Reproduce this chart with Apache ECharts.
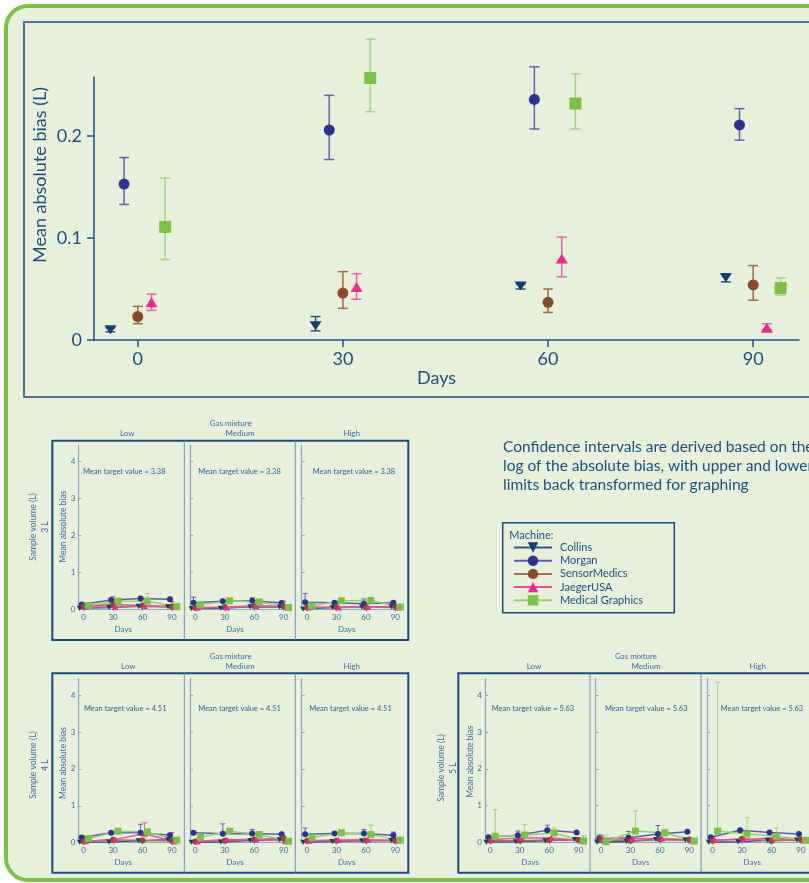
<!DOCTYPE html>
<html><head><meta charset="utf-8">
<script src="https://cdn.jsdelivr.net/npm/echarts@6/dist/echarts.min.js"></script>
<style>html,body{margin:0;padding:0;background:#ffffff;}#c{width:809px;height:883px;}</style>
</head><body><div id="c"></div>
<script>
// ---------- DATA ----------
const machines = ['Collins', 'Morgan', 'SensorMedics', 'JaegerUSA', 'Medical Graphics'];
const dayTicks = [0, 30, 60, 90];
const mainYTicks = [0, 0.1, 0.2];
const smallYTicks = [0, 1, 2, 3, 4];
const gasMixtures = ['Low', 'Medium', 'High'];
const targetValues = ['3.38', '4.51', '5.63'];
const sampleVolumes = ['3 L', '4 L', '5 L'];

// Main chart: mean absolute bias (L) at days 0,30,60,90 with CI
const mainCollins = [0.010, 0.014, 0.053, 0.061];
const mainCollinsLo = [0.008, 0.009, 0.050, 0.057];
const mainCollinsHi = [0.012, 0.023, 0.055, 0.065];
const mainMorgan = [0.153, 0.206, 0.236, 0.211];
const mainMorganLo = [0.133, 0.177, 0.207, 0.196];
const mainMorganHi = [0.179, 0.240, 0.268, 0.227];
const mainSensor = [0.023, 0.046, 0.037, 0.054];
const mainSensorLo = [0.016, 0.031, 0.027, 0.039];
const mainSensorHi = [0.033, 0.067, 0.050, 0.073];
const mainJaeger = [0.037, 0.052, 0.080, 0.012];
const mainJaegerLo = [0.029, 0.040, 0.062, 0.010];
const mainJaegerHi = [0.045, 0.065, 0.101, 0.016];
const mainMG = [0.111, 0.257, 0.232, 0.051];
const mainMGLo = [0.079, 0.224, 0.207, 0.044];
const mainMGHi = [0.159, 0.295, 0.261, 0.061];

// Small panels: rows = Collins, Morgan, SensorMedics, JaegerUSA, Medical Graphics; cols = day 0,30,60,90
const vol3Low = [[0.03,0.05,0.08,0.07],[0.13,0.25,0.29,0.27],[0.08,0.13,0.10,0.07],[0.06,0.06,0.09,0.06],[0.10,0.22,0.22,0.07]];
const vol3LowUp = [[null,null,null,null],[0.17,0.30,0.32,0.30],[null,0.34,0.14,0.20],[null,null,null,null],[null,0.26,0.43,0.15]];
const vol3Medium = [[0.02,0.03,0.07,0.06],[0.18,0.22,0.23,0.17],[0.04,0.06,0.09,0.08],[0.04,0.05,0.08,0.06],[0.12,0.23,0.20,0.05]];
const vol3MediumUp = [[null,null,null,null],[0.33,0.26,0.31,0.20],[null,null,null,0.22],[null,null,null,null],[null,null,0.27,null]];
const vol3High = [[0.01,0.05,0.06,0.07],[0.19,0.18,0.15,0.18],[0.05,0.06,0.05,0.07],[0.05,0.05,0.06,0.05],[0.09,0.23,0.24,0.06]];
const vol3HighUp = [[null,null,null,null],[0.43,0.21,0.28,0.21],[null,null,null,null],[null,null,null,null],[null,null,0.28,null]];

const vol4Low = [[0.01,0.02,0.05,0.08],[0.14,0.27,0.27,0.20],[0.03,0.08,0.06,0.05],[0.04,0.09,0.24,0.03],[0.11,0.31,0.29,0.07]];
const vol4LowUp = [[null,null,null,null],[0.18,0.30,0.50,0.25],[null,null,null,0.27],[null,null,0.54,null],[null,null,null,null]];
const vol4Medium = [[0.01,0.02,0.06,0.08],[0.27,0.24,0.25,0.23],[0.03,0.05,0.09,0.12],[0.03,0.09,0.09,0.05],[0.15,0.31,0.22,0.04]];
const vol4MediumUp = [[null,null,null,null],[0.30,0.51,0.36,0.26],[null,null,null,0.16],[null,null,null,null],[null,null,null,null]];
const vol4High = [[0.01,0.03,0.05,0.06],[0.23,0.25,0.25,0.20],[0.05,0.05,0.06,0.06],[0.05,0.07,0.08,0.05],[0.14,0.27,0.22,0.07]];
const vol4HighUp = [[null,null,null,null],[0.40,0.28,0.36,0.29],[null,null,null,null],[null,null,null,null],[null,null,0.48,null]];

const vol5Low = [[0.01,0.02,0.05,0.08],[0.14,0.20,0.33,0.27],[0.05,0.05,0.07,0.07],[0.08,0.12,0.12,0.06],[0.17,0.20,0.26,0.04]];
const vol5LowUp = [[null,null,null,null],[null,0.31,0.47,null],[null,null,null,null],[null,null,null,null],[0.89,0.49,0.40,0.18]];
const vol5Medium = [[0.01,0.03,0.08,0.07],[0.10,0.13,0.23,0.29],[0.08,0.05,0.09,0.08],[0.10,0.10,0.11,0.06],[0.02,0.31,0.26,0.04]];
const vol5MediumUp = [[null,null,null,null],[0.20,0.30,0.46,null],[0.20,null,null,null],[null,null,null,null],[0.20,0.86,0.36,null]];
const vol5High = [[0.01,0.02,0.06,0.07],[0.14,0.33,0.27,0.23],[0.05,0.10,0.04,0.08],[0.07,0.08,0.12,0.06],[0.31,0.23,0.17,0.06]];
const vol5HighUp = [[null,null,null,null],[null,null,null,null],[null,null,null,null],[null,null,null,null],[4.35,0.68,0.39,null]];

// ---------- STYLE / LAYOUT ----------
const FONT = 'Lato, "DejaVu Sans", sans-serif';
const TXT = '#1f4e7e', SMALL_TXT = '#3d6c9c', AX_LIGHT = '#8ea7c0', FRAME = '#1d4b7a', AX = '#1e5084';
const colors = ['#133e6d', '#2e3192', '#8a4b2a', '#ec2a8e', '#7bc143'];
const barColors = ['#2a5484', '#6262ae', '#a4693f', '#f060a6', '#a3d67f'];
const lineColors = ['#33598a', '#5c5ca8', '#a87050', '#ef4f9c', '#99d070'];
const symbols = ['triangle', 'circle', 'circle', 'triangle', 'rect'];
const rotations = [180, 0, 0, 0, 0];
const mainSizes = [[12, 9], 11, 11, [12, 10], 12];
const smallSizes = [[6, 5], 6, 6, [7, 6], 7];
const mainOffsets = [-4, -2, 0, 2, 4];
const smallOffsets = [-4, -2, 0, 2, 5];

const mainVals = [mainCollins, mainMorgan, mainSensor, mainJaeger, mainMG];
const mainLo = [mainCollinsLo, mainMorganLo, mainSensorLo, mainJaegerLo, mainMGLo];
const mainHi = [mainCollinsHi, mainMorganHi, mainSensorHi, mainJaegerHi, mainMGHi];

const panels = [
  { vals: [vol3Low, vol3Medium, vol3High], ups: [vol3LowUp, vol3MediumUp, vol3HighUp],
    axisX: [78.3, 190, 301.7], top: 445, zero: 609.3,
    frame: [52.3, 440.7, 356, 199.3], dividers: [184.3, 295.3],
    titleY: [423.3, 433.3], titleX: [230.7, 127.3, 240, 351.7],
    targetX: [83, 198.3, 312.7], targetY: 471.7,
    volLabel: [39, 527], innerLabel: [63.3, 526.7] },
  { vals: [vol4Low, vol4Medium, vol4High], ups: [vol4LowUp, vol4MediumUp, vol4HighUp],
    axisX: [78.3, 190, 301.7], top: 678.5, zero: 842.7,
    frame: [52.3, 673.3, 356, 199.4], dividers: [184.3, 295.3],
    titleY: [656.7, 666], titleX: [230.7, 128.3, 240, 351.7],
    targetX: [84, 198.3, 309.3], targetY: 708.3,
    volLabel: [39, 765], innerLabel: [63.3, 763] },
  { vals: [vol5Low, vol5Medium, vol5High], ups: [vol5LowUp, vol5MediumUp, vol5HighUp],
    axisX: [485, 595.7, 707.3], top: 678.5, zero: 842.5,
    frame: [458.3, 673.3, 420, 199.4], dividers: [590, 701],
    titleY: [656.7, 666], titleX: [636, 534, 646, 757.7],
    targetX: [491.7, 605, 720.7], targetY: 708.3,
    volLabel: [447.5, 768], innerLabel: [470, 761.7] }
];

// ---------- BUILD ----------
const grids = [], xAxes = [], yAxes = [], series = [], graphics = [];

// main grid (index 0)
grids.push({ left: 94, top: 77, width: 705, height: 263 });
xAxes.push({
  type: 'value', gridIndex: 0, min: -6.4, max: 96.7,
  axisLine: { show: true, onZero: false, lineStyle: { color: AX, width: 1.5 } },
  axisTick: { show: true, customValues: dayTicks, length: 7, lineStyle: { color: AX, width: 1.5 } },
  axisLabel: { customValues: dayTicks, fontSize: 18, color: TXT, fontFamily: FONT, margin: 10 },
  splitLine: { show: false },
  name: 'Days', nameLocation: 'middle', nameGap: 28,
  nameTextStyle: { fontSize: 18, color: TXT, fontFamily: FONT, padding: [0, 20, 0, 0] }
});
yAxes.push({
  type: 'value', gridIndex: 0, min: 0, max: 0.258,
  axisLine: { show: true, onZero: false, lineStyle: { color: AX, width: 1.5 } },
  axisTick: { show: true, customValues: mainYTicks, length: 7, lineStyle: { color: AX, width: 1.5 } },
  axisLabel: { customValues: mainYTicks, fontSize: 18, color: TXT, fontFamily: FONT, margin: 12,
    formatter: v => v === 0 ? '0' : v.toFixed(1) },
  splitLine: { show: false }
});

function errItem(capW, lw, colorsArr, lowerCap) {
  return function (params, api) {
    const x = api.value(0), lo = api.value(1), hi = api.value(2), m = api.value(3);
    const c = colorsArr[m];
    const pH = api.coord([x, hi]), pL = api.coord([x, lo]);
    const st = { stroke: c, lineWidth: lw };
    const ch = [
      { type: 'line', shape: { x1: pH[0], y1: pH[1], x2: pL[0], y2: pL[1] }, style: st },
      { type: 'line', shape: { x1: pH[0] - capW / 2, y1: pH[1], x2: pH[0] + capW / 2, y2: pH[1] }, style: st }
    ];
    if (lowerCap) ch.push({ type: 'line', shape: { x1: pL[0] - capW / 2, y1: pL[1], x2: pL[0] + capW / 2, y2: pL[1] }, style: st });
    return { type: 'group', children: ch };
  };
}

// small grids
let gi = 1;
panels.forEach((p, pi) => {
  p.axisX.forEach((ax, fi) => {
    grids.push({ left: ax, top: p.top, width: 100, height: p.zero - p.top });
    xAxes.push({
      type: 'value', gridIndex: gi, min: -5.5, max: 96.5,
      axisLine: { show: true, onZero: false, lineStyle: { color: AX_LIGHT, width: 1 } },
      axisTick: { show: true, customValues: dayTicks, length: 2, lineStyle: { color: AX_LIGHT } },
      axisLabel: { customValues: dayTicks, fontSize: 8, color: SMALL_TXT, fontFamily: FONT, margin: 4 },
      splitLine: { show: false },
      name: 'Days', nameLocation: 'middle', nameGap: 16,
      nameTextStyle: { fontSize: 8, color: SMALL_TXT, fontFamily: FONT, padding: [0, 10, 0, 0] }
    });
    yAxes.push({
      type: 'value', gridIndex: gi, min: 0, max: 4.45,
      axisLine: { show: true, onZero: false, lineStyle: { color: AX_LIGHT, width: 1.2 } },
      axisTick: { show: true, inside: true, customValues: smallYTicks, length: 3, lineStyle: { color: AX_LIGHT } },
      axisLabel: { show: fi === 0, customValues: smallYTicks, fontSize: 8, color: SMALL_TXT, fontFamily: FONT, margin: 3 },
      splitLine: { show: false }
    });
    const vals = p.vals[fi], ups = p.ups[fi];
    const errData = [];
    machines.forEach((m, mi) => {
      series.push({
        type: 'line', name: m, xAxisIndex: gi, yAxisIndex: gi,
        data: dayTicks.map((d, di) => [d + smallOffsets[mi], vals[mi][di]]),
        symbol: symbols[mi], symbolRotate: rotations[mi], symbolSize: smallSizes[mi],
        itemStyle: { color: colors[mi] },
        lineStyle: { color: lineColors[mi], width: 1.5 },
        z: 3, animation: false, silent: true
      });
      dayTicks.forEach((d, di) => {
        if (ups[mi][di] != null) errData.push([d + smallOffsets[mi], vals[mi][di], ups[mi][di], mi]);
      });
    });
    series.push({
      type: 'custom', xAxisIndex: gi, yAxisIndex: gi, data: errData, clip: false,
      encode: { x: 0, y: [1, 2] }, renderItem: errItem(5, 1, barColors, false), z: 2, silent: true
    });
    gi++;
  });
});

// main series (after small line series so legend icons come from line series)
machines.forEach((m, mi) => {
  series.push({
    type: 'custom', xAxisIndex: 0, yAxisIndex: 0, clip: false,
    data: dayTicks.map((d, di) => [d + mainOffsets[mi], mainLo[mi][di], mainHi[mi][di], mi]),
    encode: { x: 0, y: [1, 2] }, renderItem: errItem(10, 1.5, barColors, true), z: 2, silent: true
  });
  series.push({
    type: 'scatter', name: m, xAxisIndex: 0, yAxisIndex: 0,
    data: dayTicks.map((d, di) => [d + mainOffsets[mi], mainVals[mi][di]]),
    symbol: symbols[mi], symbolRotate: rotations[mi], symbolSize: mainSizes[mi],
    itemStyle: { color: colors[mi], opacity: 1 }, z: 4, silent: true
  });
});

// ---------- GRAPHICS ----------
function txt(x, y, text, size, color, align, opts) {
  return Object.assign({
    type: 'text', x: x, y: y, silent: true,
    style: { text: text, fontSize: size, fontFamily: FONT, fill: color,
      align: align || 'center', verticalAlign: 'middle', textAlign: align || 'center', textVerticalAlign: 'middle' }
  }, opts || {});
}
graphics.push({ type: 'rect', z: -5, silent: true, shape: { x: 6, y: 6, width: 860, height: 874, r: 22 },
  style: { fill: '#e6f0db', stroke: '#7bc143', lineWidth: 4 } });
graphics.push({ type: 'rect', z: -4, silent: true, shape: { x: 24, y: 22, width: 860, height: 375 },
  style: { fill: 'none', stroke: FRAME, lineWidth: 1.5 } });
graphics.push(txt(40, 175, 'Mean absolute bias (L)', 18, TXT, 'center', { rotation: Math.PI / 2 }));

graphics.push({ type: 'text', x: 503, y: 437, silent: true,
  style: { text: 'Confidence intervals are derived based on the\nlog of the absolute bias, with upper and lower\nlimits back transformed for graphing',
    fontSize: 15.5, lineHeight: 19, fontFamily: FONT, fill: TXT, align: 'left', verticalAlign: 'top', textAlign: 'left', textVerticalAlign: 'top' } });
graphics.push({ type: 'rect', z: -4, silent: true, shape: { x: 502.7, y: 522.7, width: 171.6, height: 90 },
  style: { fill: 'none', stroke: FRAME, lineWidth: 1.5 } });
graphics.push(txt(509.3, 535, 'Machine:', 11, TXT, 'left'));

panels.forEach((p, pi) => {
  graphics.push({ type: 'rect', z: -4, silent: true, shape: { x: p.frame[0], y: p.frame[1], width: p.frame[2], height: p.frame[3] },
    style: { fill: 'none', stroke: FRAME, lineWidth: 2 } });
  p.dividers.forEach(dx => graphics.push({ type: 'line', z: -4, silent: true,
    shape: { x1: dx, y1: p.frame[1], x2: dx, y2: p.frame[1] + p.frame[3] }, style: { stroke: '#7190af', lineWidth: 1 } }));
  graphics.push(txt(p.titleX[0], p.titleY[0], 'Gas mixture', 8, SMALL_TXT));
  gasMixtures.forEach((gname, fi) => {
    graphics.push(txt(p.titleX[fi + 1], p.titleY[1], gname, 8, SMALL_TXT));
    graphics.push(txt(p.targetX[fi], p.targetY, 'Mean target value = ' + targetValues[pi], 7.5, '#2f5e8e', 'left'));
  });
  graphics.push({ type: 'text', x: p.volLabel[0], y: p.volLabel[1], rotation: Math.PI / 2, silent: true,
    style: { text: 'Sample volume (L)\n' + sampleVolumes[pi], fontSize: 8.5, lineHeight: 12, fontFamily: FONT, fill: SMALL_TXT,
      align: 'center', verticalAlign: 'middle', textAlign: 'center', textVerticalAlign: 'middle' } });
  graphics.push(txt(p.innerLabel[0], p.innerLabel[1], 'Mean absolute bias', 8.5, SMALL_TXT, 'center', { rotation: Math.PI / 2 }));
});

const chart = echarts.init(document.getElementById('c'), null, { renderer: 'canvas' });
chart.setOption({
  animation: false,
  backgroundColor: 'transparent',
  textStyle: { fontFamily: FONT },
  grid: grids, xAxis: xAxes, yAxis: yAxes, series: series,
  legend: {
    data: machines, left: 513, top: 541, orient: 'vertical', selectedMode: false,
    itemWidth: 38, itemHeight: 13, itemGap: 0.2, padding: 0,
    textStyle: { fontSize: 11, color: TXT, fontFamily: FONT, lineHeight: 13, padding: [0, 0, 0, 3] }
  },
  graphic: { elements: graphics }
});
</script></body></html>
